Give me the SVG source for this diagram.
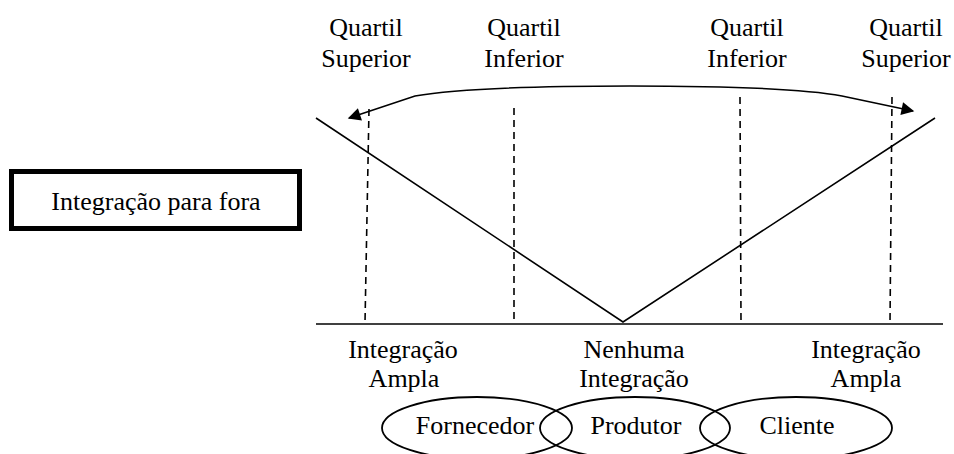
<svg xmlns="http://www.w3.org/2000/svg" width="954" height="454" viewBox="0 0 954 454">
<style>
text{font-family:"Liberation Serif","Times New Roman",serif;font-size:26px;fill:#000;text-anchor:middle}
.ln{stroke:#000;fill:none;stroke-width:1.6}
.ds{stroke:#000;fill:none;stroke-width:1.6;stroke-dasharray:7 5}
.el{stroke:#000;fill:none;stroke-width:1.8}
</style>
<defs>
<marker id="ah" viewBox="0 0 10 10" refX="9" refY="5" markerWidth="10" markerHeight="8" markerUnits="strokeWidth" orient="auto-start-reverse">
<path d="M0,0 L10,5 L0,10 Z" fill="#000"/>
</marker>
</defs>
<rect width="954" height="454" fill="#fff"/>
<g id="box">
<rect x="11.5" y="171.5" width="288" height="57" fill="#fff" stroke="#000" stroke-width="5"/>
<text x="156" y="210">Integração para fora</text>
</g>
<g id="labels-top">
<text x="366" y="36">Quartil</text><text x="366" y="67">Superior</text>
<text x="524" y="36">Quartil</text><text x="524" y="67">Inferior</text>
<text x="747" y="36">Quartil</text><text x="747" y="67">Inferior</text>
<text x="906" y="36">Quartil</text><text x="906" y="67">Superior</text>
</g>
<g id="connectors">
<path class="ln" stroke-width="2" d="M316,324 L943,324"/>
<path class="ln" d="M316,118 L623,322 L935,118"/>
<path class="ds" d="M369,109 L365,323"/>
<path class="ds" d="M514,108 L514,323"/>
<path class="ds" d="M740,97 L741,323"/>
<path class="ds" d="M892,97 L890,323"/>
<path class="ln" stroke-width="2" marker-start="url(#ah)" marker-end="url(#ah)" d="M349,118 L415,96 C460,88 540,86 630,86 C720,86 800,88 842,96 L913,111"/>
</g>
<g id="labels-bottom">
<text x="403" y="358">Integração</text><text x="404" y="387">Ampla</text>
<text x="634" y="358">Nenhuma</text><text x="634" y="387">Integração</text>
<text x="866" y="358">Integração</text><text x="866" y="387">Ampla</text>
</g>
<g id="fornecedor">
<ellipse class="el" cx="477" cy="428" rx="95" ry="31"/>
<text x="475" y="434">Fornecedor</text>
</g>
<g id="produtor">
<ellipse class="el" cx="635" cy="428" rx="95" ry="31"/>
<text x="636" y="434">Produtor</text>
</g>
<g id="cliente">
<ellipse class="el" cx="796" cy="428" rx="96" ry="31"/>
<text x="797" y="434">Cliente</text>
</g>
</svg>
